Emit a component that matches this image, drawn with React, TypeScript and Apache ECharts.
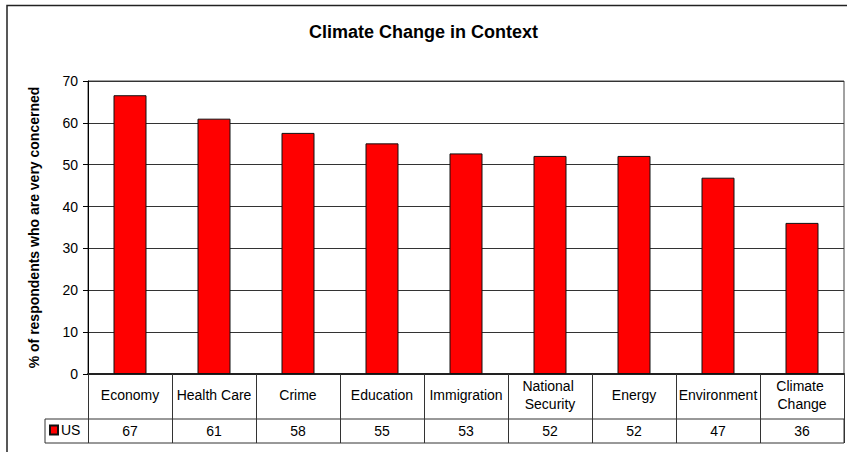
import React, { useEffect, useRef } from "react";
import * as echarts from "echarts";

const titleText = "Climate Change in Context";
const yAxisTitle = "% of respondents who are very concerned";
const seriesName = "US";
const categories = [
  "Economy",
  "Health Care",
  "Crime",
  "Education",
  "Immigration",
  "National Security",
  "Energy",
  "Environment",
  "Climate Change",
];
const values = [66.6, 61.0, 57.6, 55.1, 52.7, 52.1, 52.1, 46.9, 36.1];
const yMin = 0;
const yMax = 70;
const yInterval = 10;

const FONT = "'Liberation Sans', Arial, sans-serif";

export default function App() {
  const ref = useRef<HTMLDivElement>(null);

  useEffect(() => {
    if (!ref.current) return;
    const chart = echarts.init(ref.current, null, { renderer: "svg" });
    chart.setOption({
      animation: false,
      backgroundColor: "#fff",
      textStyle: { fontFamily: FONT, color: "#000" },
      title: {
        text: titleText,
        left: "center",
        top: 23,
        padding: 0,
        textStyle: { fontSize: 18, fontWeight: "bold", color: "#000", fontFamily: FONT },
      },
      legend: {
        data: [seriesName],
        left: 49,
        top: 423,
        padding: 0,
        icon: "rect",
        itemWidth: 8,
        itemHeight: 9,
        textStyle: { fontSize: 14, color: "#000", fontFamily: FONT, padding: [0, 0, 0, -2] },
      },
      graphic: [
        {
          type: "rect",
          shape: { x: 7, y: 5.5, width: 900, height: 500 },
          style: { fill: "none", stroke: "#222", lineWidth: 1.5 },
          silent: true,
        },
      ],
      grid: [
        {
          left: 88,
          right: 3,
          top: 81,
          height: 293,
          show: true,
          borderColor: "#444",
          borderWidth: 1,
        },
        {
          left: 45,
          right: 3,
          top: 419,
          height: 24,
          show: true,
          borderColor: "#333",
          borderWidth: 1,
        },
      ],
      xAxis: [
        {
          type: "category",
          gridIndex: 0,
          data: categories,
          position: "bottom",
          axisLine: { show: true, lineStyle: { color: "#222", width: 2 } },
          axisTick: {
            show: true,
            interval: 0,
            length: 69,
            lineStyle: { color: "#333", width: 1 },
          },
          axisLabel: {
            interval: 0,
            fontSize: 14,
            color: "#000",
            fontFamily: FONT,
            margin: 21,
            verticalAlign: "middle",
            lineHeight: 18,
            width: 80,
            overflow: "break",
          },
          splitLine: { show: false },
        },
        {
          type: "category",
          gridIndex: 0,
          data: categories,
          position: "bottom",
          offset: 45,
          axisLine: { show: false },
          axisTick: { show: false },
          axisLabel: {
            interval: 0,
            fontSize: 14,
            color: "#000",
            fontFamily: FONT,
            margin: 12,
            verticalAlign: "middle",
            formatter: (_v: string, i: number) => String(Math.round(values[i])),
          },
          splitLine: { show: false },
        },
        { type: "value", gridIndex: 1, show: false },
      ],
      yAxis: [
        {
          type: "value",
          gridIndex: 0,
          min: yMin,
          max: yMax,
          interval: yInterval,
          name: yAxisTitle,
          nameLocation: "middle",
          nameRotate: 90,
          nameGap: 47,
          nameTextStyle: { fontSize: 14, fontWeight: "bold", color: "#000", fontFamily: FONT },
          axisLine: { show: true, lineStyle: { color: "#000", width: 1 } },
          axisTick: { show: true, length: 5, lineStyle: { color: "#000" } },
          axisLabel: { fontSize: 14, color: "#000", fontFamily: FONT, margin: 10 },
          splitLine: { show: true, lineStyle: { color: "#333", width: 1 } },
        },
        { type: "value", gridIndex: 1, show: false },
      ],
      series: [
        {
          name: seriesName,
          type: "bar",
          xAxisIndex: 0,
          yAxisIndex: 0,
          data: values,
          barWidth: 33,
          itemStyle: { color: "#FF0000", borderColor: "#111", borderWidth: 1 },
        },
      ],
    });
    return () => chart.dispose();
  }, []);

  return (
    <div
      ref={ref}
      style={{ position: "fixed", left: 0, top: 0, width: 847, height: 452 }}
    />
  );
}
